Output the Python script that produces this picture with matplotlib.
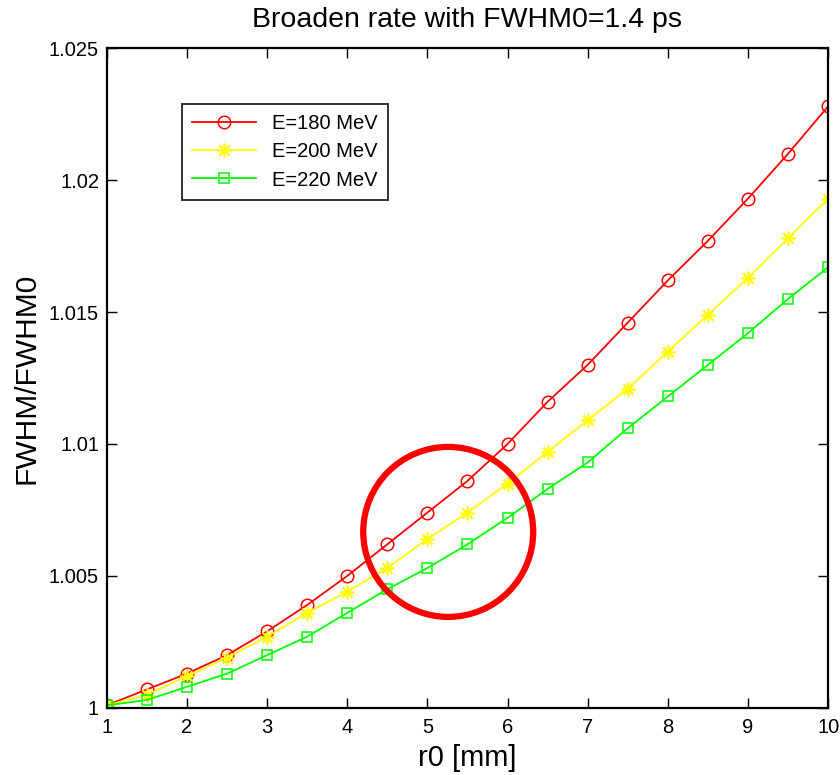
import matplotlib

matplotlib.use("Agg")
import matplotlib.pyplot as plt
from matplotlib.patches import Ellipse

plt.rcParams["font.family"] = ["Liberation Sans", "DejaVu Sans"]

# radius r0 [mm]
r0 = [1, 1.5, 2, 2.5, 3, 3.5, 4, 4.5, 5, 5.5, 6, 6.5, 7, 7.5, 8, 8.5, 9, 9.5, 10]

# FWHM/FWHM0
ratio_180 = [1.0001, 1.0007, 1.0013, 1.0020, 1.0029, 1.0039, 1.0050, 1.0062,
             1.0074, 1.0086, 1.0100, 1.0116, 1.0130, 1.0146, 1.0162, 1.0177,
             1.0193, 1.0210, 1.0228]
ratio_200 = [1.0001, 1.0005, 1.0012, 1.0019, 1.0027, 1.0036, 1.0044, 1.0053,
             1.0064, 1.0074, 1.0085, 1.0097, 1.0109, 1.0121, 1.0135, 1.0149,
             1.0163, 1.0178, 1.0193]
ratio_220 = [1.0001, 1.0003, 1.0008, 1.0013, 1.0020, 1.0027, 1.0036, 1.0045,
             1.0053, 1.0062, 1.0072, 1.0083, 1.0093, 1.0106, 1.0118, 1.0130,
             1.0142, 1.0155, 1.0167]

series_labels = ["E=180 MeV", "E=200 MeV", "E=220 MeV"]
x_ticks = [1, 2, 3, 4, 5, 6, 7, 8, 9, 10]
y_ticks = [1, 1.005, 1.01, 1.015, 1.02, 1.025]
y_tick_labels = ["1", "1.005", "1.01", "1.015", "1.02", "1.025"]

# hand-drawn highlight circle (data coords)
circle_center = (5.26, 1.00667)
circle_size = (2.12, 0.00644)

fig = plt.figure(figsize=(8.4, 7.75), dpi=100)
ax = fig.add_axes([0.127, 0.0865, 0.859, 0.8515])

asterisk = (8, 2, 0)
ax.plot(r0, ratio_180, color="#ff0000", lw=1.3, marker="o", ms=9,
        mfc="none", mew=1.1, label=series_labels[0])
ax.plot(r0, ratio_200, color="#ffff00", lw=1.3, marker=asterisk, ms=10,
        mew=1.2, label=series_labels[1])
ax.plot(r0, ratio_220, color="#00ff00", lw=1.3, marker="s", ms=7.5,
        mfc="none", mew=1.1, label=series_labels[2])

ax.add_patch(Ellipse(circle_center, circle_size[0], circle_size[1],
                     fill=False, edgecolor="#ff0000", lw=4.5, zorder=5))

ax.set_xlim(1, 10)
ax.set_ylim(1, 1.025)
ax.set_xticks(x_ticks)
ax.set_yticks(y_ticks)
ax.set_yticklabels(y_tick_labels)
ax.tick_params(direction="in", length=7, width=1.0, top=True, right=True,
               labelsize=14.5, colors="black")
ax.tick_params(axis="y", pad=5.5)
ax.tick_params(axis="x", pad=7)
for s in ax.spines.values():
    s.set_linewidth(1.6)

ax.set_xlabel("r0 [mm]", fontsize=21, labelpad=5)
ax.set_ylabel("FWHM/FWHM0", fontsize=21.5, labelpad=6)
ax.set_title("Broaden rate with FWHM0=1.4 ps", fontsize=20.5, pad=15)

leg = ax.legend(loc="upper left", bbox_to_anchor=(0.09, 0.93), fontsize=14.5,
                frameon=True, fancybox=False, shadow=False, borderpad=0.5,
                handlelength=3.2, labelspacing=0.45, edgecolor="black")
leg.get_frame().set_linewidth(1.4)

fig.savefig("out.png", dpi=100)
